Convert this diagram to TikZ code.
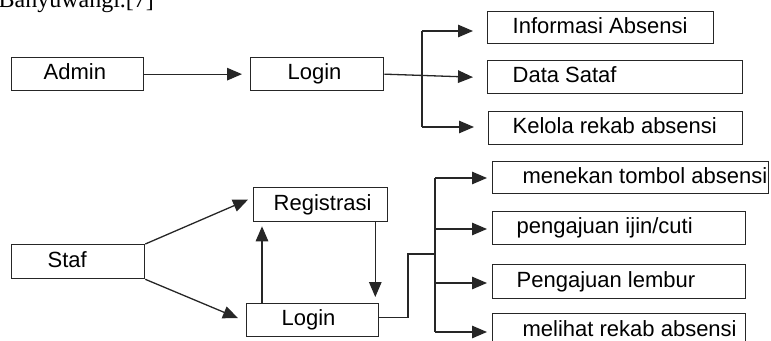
\documentclass[tikz,border=0pt]{standalone}
\usepackage{fontspec}
\setmainfont{Liberation Sans}
\newfontfamily\capserif{Liberation Serif}
\usetikzlibrary{arrows.meta,calc}
\newcommand\lbox[2]{\makebox[#1pt][l]{#2}}
\begin{document}
\begin{tikzpicture}[x=1pt,y=-1pt,
  line width=1.3pt,
  every node/.style={font=\fontsize{22}{24}\selectfont},
  boxnode/.style={draw=black!85, anchor=north west, inner ysep=0pt, minimum height=#1,
     text height=16pt, text depth=4.5pt},
  boxnode/.default=33pt,
  arr/.style={draw=black!85, -{Triangle[length=15pt,width=12.5pt]}},
  ln/.style={draw=black!85}]
\useasboundingbox (0,0) rectangle (771,340);
\node[anchor=base west, inner sep=0pt, font=\capserif\fontsize{24}{26}\selectfont] (cap) at (-2,8) {Banyuwangi.[7]};
% top group
\node[boxnode, inner xsep=32pt] (admin) at (11,57) {\lbox{68}{Admin}};
\node[boxnode, inner xsep=37pt] (loginA) at (250,57) {\lbox{59}{Login}};
\node[boxnode=32pt, inner xsep=25pt] (info) at (487,11) {\lbox{176}{Informasi Absensi}};
\node[boxnode, inner xsep=25pt] (data) at (487,60) {\lbox{205}{Data Sataf}};
\node[boxnode, inner xsep=24pt] (kelola) at (488,111) {\lbox{206}{Kelola rekab absensi}};
\draw[arr, shorten >=8pt] (admin.east) -- (loginA.west);
\coordinate (b1) at (422,31);
\coordinate (b3) at (422,127);
\draw[ln] (b1) -- (b3);
\draw[arr, shorten >=14pt] (loginA.east) -- ($(data.west)+(0,0.5)$);
\draw[arr, shorten >=14pt] (b1) -- (b1 -| info.west);
\draw[arr, shorten >=14pt] (b3) -- (b3 -| kelola.west);
% bottom group
\node[boxnode=34pt, inner xsep=36pt] (staf) at (11,244) {\lbox{61}{Staf}};
\node[boxnode=34pt, inner xsep=20pt] (reg) at (253,187) {\lbox{94}{Registrasi}};
\node[boxnode, inner xsep=35pt] (loginB) at (246,303) {\lbox{62}{Login}};
\node[boxnode=32pt, inner xsep=30pt] (menekan) at (492,161) {\lbox{216}{menekan tombol absensi}};
\node[boxnode, inner xsep=24pt] (ijin) at (492,211) {\lbox{205}{pengajuan ijin/cuti}};
\node[boxnode=34pt, inner xsep=24pt] (lembur) at (492,264) {\lbox{205}{Pengajuan lembur}};
\node[boxnode=34pt, inner xsep=30pt] (melihat) at (492,313) {\lbox{193}{melihat rekab absensi}};
\draw[arr] (staf.north east) -- ($(reg.west)+(-5,-5)$);
\draw[arr] (staf.south east) -- ($(loginB.west)+(-8,-2)$);
\draw[arr, shorten >=4pt] ([xshift=16pt]loginB.north west) -- ([xshift=16pt]loginB.north west |- reg.south);
\draw[arr, shorten >=6pt] ([xshift=-13pt]reg.south east) -- ([xshift=-13pt]reg.south east |- loginB.north);
\coordinate (j) at (408,254);
\coordinate (v) at (435,254);
\draw[ln] ($(loginB.east)+(0,-3)$) -| (j) -- (v);
\coordinate (t1) at (435,178);
\coordinate (t2) at (435,229);
\coordinate (t3) at (435,283);
\coordinate (t4) at (435,332);
\draw[ln] (t1) -- (t4);
\draw[arr, shorten >=5pt] (t1) -- (t1 -| menekan.west);
\draw[arr, shorten >=5pt] (t2) -- (t2 -| ijin.west);
\draw[arr, shorten >=5pt] (t3) -- (t3 -| lembur.west);
\draw[arr, shorten >=5pt] (t4) -- (t4 -| melihat.west);
\end{tikzpicture}
\end{document}
